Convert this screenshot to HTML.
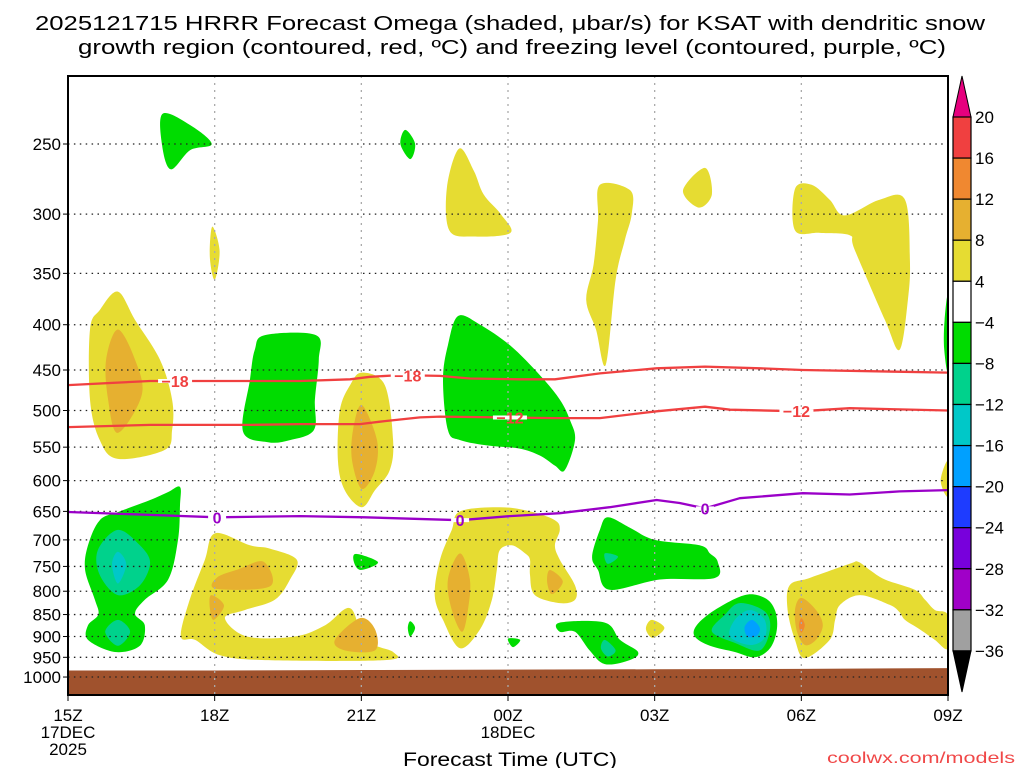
<!DOCTYPE html>
<html><head><meta charset="utf-8"><style>
html,body{margin:0;padding:0;background:#fff;width:1024px;height:768px;overflow:hidden}
svg{display:block}
text{font-family:"Liberation Sans",sans-serif;fill:#000}
</style></head><body>
<svg id="chart" width="1024" height="768" viewBox="0 0 1024 768" xmlns="http://www.w3.org/2000/svg">
<text x="510" y="30" text-anchor="middle" font-size="20" textLength="950" lengthAdjust="spacingAndGlyphs">2025121715 HRRR Forecast Omega (shaded, μbar/s) for KSAT with dendritic snow</text>
<text x="512" y="54" text-anchor="middle" font-size="20" textLength="868" lengthAdjust="spacingAndGlyphs">growth region (contoured, red, ºC) and freezing level (contoured, purple, ºC)</text>
<g id="plot"></g>
<g id="cbar"></g>
<text x="510" y="766" text-anchor="middle" font-size="19" textLength="214" lengthAdjust="spacingAndGlyphs">Forecast Time (UTC)</text>
<text x="1015" y="763" text-anchor="end" font-size="16" style="fill:#f04848" textLength="188" lengthAdjust="spacingAndGlyphs">coolwx.com/models</text>
</svg>
<script>
// ---- data ----
const pressureTicks = [250,300,350,400,450,500,550,600,650,700,750,800,850,900,950,1000];
const timeTickHours = [0,3,6,9,12,15,18];
const timeTickLabels = ["15Z","18Z","21Z","00Z","03Z","06Z","09Z"];
const dateLabels = [[0,"17DEC"],[0,"2025"],[9,"18DEC"]];
const cbarLevels = ["20","16","12","8","4","−4","−8","−12","−16","−20","−24","−28","−32","−36"];
const cbarColors = ["#f04040","#f08830","#e6b030","#e6dc32","#ffffff","#00dc00","#00d28c","#00c8c8","#00a0ff","#1e3cff","#7800dc","#a000c8","#a0a0a0"];
const shadeColors = {y:"#e6dc32",g:"#e6b030",o:"#f08830",G:"#00dc00",T:"#00d28c",C:"#00c8c8",B:"#00a0ff"};
// omega shaded regions: [level, [[hour, pressure], ...]]
const omegaRegions = [
 ["G",[[1.94,231],[2.5,238],[2.94,250],[2.5,254],[2.1,267],[1.92,250]]],
 ["y",[[2.95,310],[3.1,330],[3.0,356],[2.9,335]]],
 ["G",[[6.9,241],[7.1,250],[7.0,260],[6.8,250]]],
 ["y",[[8.0,253],[8.3,268],[8.5,285],[8.85,300],[9.05,315],[8.3,318],[7.8,313],[7.75,280]]],
 ["y",[[10.88,278],[11.5,282],[11.53,300],[11.39,321],[11.2,356],[11.0,444],[10.8,405],[10.6,375],[10.75,342],[10.84,305]]],
 ["y",[[12.58,282],[13.03,266],[13.17,285],[12.9,295]]],
 ["y",[[14.87,281],[15.21,278],[15.58,289],[15.89,301],[16.6,289],[17.12,289],[17.22,338],[17.18,375],[17.01,427],[16.71,395],[16.09,329],[15.99,317],[15.38,315],[14.87,313]]],
 ["G",[[17.93,395],[18,372],[18,450],[17.92,425]]],
 ["y",[[17.85,600],[18,570],[18,625]]],
 ["y",[[1.02,367],[1.37,395],[1.88,438],[2.13,486],[2.13,526],[1.98,554],[1.02,567],[0.65,540],[0.45,486],[0.45,405],[0.65,385]]],
 ["g",[[1.02,405],[1.37,438],[1.51,480],[1.02,530],[0.82,486],[0.78,438]]],
 ["G",[[4.03,411],[5.07,411],[5.13,438],[5.05,486],[5.03,526],[4.54,540],[4.09,543],[3.58,528],[3.72,462],[3.82,427]]],
 ["y",[[6.01,453],[6.48,468],[6.65,540],[6.58,584],[6.28,615],[6.01,643],[5.66,615],[5.52,569],[5.56,500],[5.77,468]]],
 ["g",[[6.01,493],[6.32,540],[6.28,584],[6.01,613],[5.81,569],[5.83,526]]],
 ["G",[[7.98,391],[8.43,400],[9.04,422],[9.65,456],[10.06,486],[10.27,513],[10.37,540],[10.16,584],[9.96,577],[9.65,562],[9.24,552],[8.63,548],[8.02,540],[7.77,526],[7.67,462],[7.77,422]]],
 ["G",[[2.29,610],[2.05,618],[1.68,631],[1.06,650],[0.65,665],[0.41,710],[0.35,757],[0.55,818],[0.62,850],[0.41,874],[0.41,908],[0.96,937],[1.47,922],[1.57,874],[1.37,848],[1.57,818],[2.05,776],[2.25,700],[2.29,640]]],
 ["T",[[1.02,682],[1.47,710],[1.68,743],[1.47,788],[1.02,808],[0.65,767],[0.61,719]]],
 ["C",[[1.02,722],[1.19,746],[1.02,784],[0.9,746]]],
 ["T",[[1.02,862],[1.27,889],[1.02,922],[0.76,889]]],
 ["y",[[3.01,688],[3.72,710],[4.13,716],[4.68,737],[4.54,776],[4.23,818],[3.62,840],[3.21,858],[3.66,900],[4.64,900],[5.26,874],[5.77,836],[6.07,908],[6.65,937],[6.48,957],[4.03,957],[3.11,945],[2.6,908],[2.31,900],[2.49,818],[2.8,737]]],
 ["g",[[4.0,741],[4.13,790],[3.03,795],[3.05,772],[3.5,755]]],
 ["g",[[2.93,808],[3.19,830],[2.98,862],[2.9,835]]],
 ["g",[[5.97,858],[6.28,883],[6.28,933],[5.66,933],[5.46,908]]],
 ["G",[[5.89,726],[6.34,742],[5.99,757],[5.85,742]]],
 ["G",[[7.0,865],[7.1,880],[7.0,900],[6.95,880]]],
 ["y",[[8.02,650],[8.83,643],[9.45,650],[9.96,665],[10.06,682],[9.96,710],[10.06,737],[10.37,788],[10.37,818],[10.06,825],[9.55,808],[9.45,767],[9.45,737],[9.35,725],[9.08,710],[8.83,719],[8.77,757],[8.67,818],[8.43,883],[8.02,928],[7.67,862],[7.5,808],[7.61,737],[7.85,682]]],
 ["g",[[8.02,725],[8.22,776],[8.18,840],[8.06,889],[7.85,840],[7.77,776]]],
 ["g",[[9.86,757],[10.12,780],[9.9,806],[9.8,780]]],
 ["G",[[9.0,905],[9.25,908],[9.1,925]]],
 ["G",[[11.04,660],[11.49,678],[12.0,700],[12.92,710],[13.13,725],[13.29,741],[13.23,773],[12.11,776],[11.08,797],[10.84,757],[10.72,731],[10.88,682]]],
 ["T",[[10.98,725],[11.25,731],[11.04,745]]],
 ["G",[[10.06,868],[10.98,868],[11.29,908],[11.66,937],[11.49,957],[10.98,967],[10.67,933],[10.37,889],[10.06,889]]],
 ["T",[[10.98,908],[11.2,933],[11.04,948],[10.9,928]]],
 ["y",[[11.94,862],[12.2,880],[11.96,903],[11.82,882]]],
 ["G",[[13.84,808],[14.25,814],[14.46,840],[14.5,883],[14.36,928],[14.05,950],[13.64,937],[13.13,922],[12.82,900],[12.86,874],[13.23,840]]],
 ["T",[[13.74,825],[14.25,843],[14.36,883],[14.15,933],[13.64,915],[13.17,888],[13.44,850]]],
 ["C",[[13.95,840],[14.25,862],[14.25,903],[13.95,920],[13.54,900],[13.64,862]]],
 ["B",[[13.99,862],[14.15,880],[14.09,898],[13.9,900],[13.84,878]]],
 ["y",[[14.76,788],[15.17,773],[15.99,745],[16.16,741],[16.4,757],[16.71,776],[17.32,797],[17.53,818],[17.73,840],[18,852],[18,928],[17.73,908],[17.42,883],[17.12,862],[17.01,845],[16.81,829],[16.2,808],[15.79,829],[15.69,862],[15.58,908],[15.07,952],[14.87,908],[14.72,840]]],
 ["g",[[15.0,814],[15.3,840],[15.44,874],[15.3,908],[15.07,920],[14.91,888],[14.87,840]]],
 ["o",[[15.0,858],[15.07,874],[15.0,891],[14.95,874]]]
];
const surfaceHours = [0,3,6,9,12,15,18];
const surfacePressure = [983,983,982,981,980,979,977];
const m18Hours = [0,1.68,2.19,3.05,4.75,5.77,6.18,6.79,7.61,8.22,9.24,9.96,10.88,12.04,13.03,14.15,15.03,18];
const m18Press = [468,463,463,463,463,461,458,456,457,460,461,461,454,448,446,448,450,453];
const m18Labels = [2.19,6.95];
const m12Hours = [0,1.68,3.72,4.75,5.97,6.48,7.2,7.61,8.83,9.96,10.88,12.04,13.03,13.54,14.97,15.99,18];
const m12Press = [522,519,519,518,518,514,509,508,509,510,510,501,495,499,501,497,500];
const m12Labels = [9.04,14.9];
const zeroHours = [0,1.68,3.05,4.75,6.07,8.02,9.04,10.06,11.08,12.04,12.51,13.03,13.74,15.03,15.99,17.01,18];
const zeroPress = [651,656,660,658,660,665,658,653,643,631,636,645,628,620,622,617,615];
const zeroLabels = [3.05,8.02,13.03];

// ---- axes ----
const X0=68, X1=948, Y0=76, Y1=695;
const xOf = h => X0 + h*(X1-X0)/18;
const yOf = p => 144 + Math.log(p/250)*384.5;
const NS="http://www.w3.org/2000/svg";
function mk(tag, attrs, parent){const e=document.createElementNS(NS,tag);for(const k in attrs)e.setAttribute(k,attrs[k]);parent.appendChild(e);return e;}
const plot=document.getElementById('plot');
const cbar=document.getElementById('cbar');

function smoothClosed(pts){
  const n=pts.length;let d=`M${pts[0][0].toFixed(1)},${pts[0][1].toFixed(1)}`;
  for(let i=0;i<n;i++){
    const p0=pts[(i-1+n)%n],p1=pts[i],p2=pts[(i+1)%n],p3=pts[(i+2)%n];
    const c1=[p1[0]+(p2[0]-p0[0])/6,p1[1]+(p2[1]-p0[1])/6];
    const c2=[p2[0]-(p3[0]-p1[0])/6,p2[1]-(p3[1]-p1[1])/6];
    d+=`C${c1[0].toFixed(1)},${c1[1].toFixed(1)} ${c2[0].toFixed(1)},${c2[1].toFixed(1)} ${p2[0].toFixed(1)},${p2[1].toFixed(1)}`;
  }
  return d+'Z';
}
const defs=mk('defs',{},plot);
const cp=mk('clipPath',{id:'clip'},defs);
mk('rect',{x:X0,y:Y0,width:X1-X0,height:Y1-Y0},cp);
const shadeG=mk('g',{'clip-path':'url(#clip)'},plot);
omegaRegions.forEach((r,i)=>{
  const pts=r[1].map(q=>[xOf(q[0]),yOf(q[1])]);
  const e=mk('path',{d:smoothClosed(pts),fill:shadeColors[r[0]]},shadeG);
  
  
});
// ground
let gd=`M${xOf(0)},${Y1}`;
surfaceHours.forEach((h,i)=>{gd+=`L${xOf(h)},${yOf(surfacePressure[i])}`;});
gd+=`L${xOf(18)},${Y1}Z`;
const ground=mk('path',{d:gd,fill:'#a0522d'},shadeG);



// grid
pressureTicks.forEach(p=>{
  const y=yOf(p);
  const l=mk('line',{x1:X0,x2:X1,y1:y,y2:y,stroke:'#222','stroke-width':1.3,'stroke-dasharray':'1.5 4.4'},plot);
  
  
  const t=mk('text',{x:61,y:y+6,'text-anchor':'end','font-size':17},plot);
  t.textContent=p;
  
  
  mk('line',{x1:X0-5,x2:X0,y1:y,y2:y,stroke:'#000'},plot);
});
timeTickHours.forEach((h,i)=>{
  const x=xOf(h);
  if(h>0&&h<18){const l=mk('line',{x1:x,x2:x,y1:Y0,y2:Y1,stroke:'#aaa','stroke-width':1.3,'stroke-dasharray':'2 5'},plot);
  
  }
  mk('line',{x1:x,x2:x,y1:Y1,y2:Y1+6,stroke:'#000'},plot);
  const t=mk('text',{x:x,y:721,'text-anchor':'middle','font-size':17},plot);
  t.textContent=timeTickLabels[i];
  
  
});
dateLabels.forEach((d,i)=>{
  const row = (d[0]===0)? (d[1]==="2025"?2:1) : 1;
  const t=mk('text',{x:xOf(d[0]),y:721+row*17,'text-anchor':'middle','font-size':17},plot);
  t.textContent=d[1];
  
  
});

// contours
function contour(hours,press,color,labels,txt,name){
  let d='';hours.forEach((h,i)=>{d+=(i?'L':'M')+xOf(h).toFixed(1)+','+yOf(press[i]).toFixed(1);});
  const e=mk('path',{d:d,fill:'none',stroke:color,'stroke-width':2.3,'stroke-linejoin':'round'},plot);
  
  
  labels.forEach(h=>{
    let p=press[press.length-1];
    for(let i=0;i<hours.length-1;i++){if(h>=hours[i]&&h<=hours[i+1]){const f=(h-hours[i])/(hours[i+1]-hours[i]);p=press[i]+f*(press[i+1]-press[i]);break;}}
    const x=xOf(h),y=yOf(p);
    const hw = txt.length>1?17:9;
    mk('line',{x1:x-hw,x2:x+hw,y1:y,y2:y,stroke:'#fff','stroke-width':4},plot);
    const t=mk('text',{x:x,y:y+6,'text-anchor':'middle','font-size':16,'font-weight':'bold',style:'fill:'+color},plot);
    t.textContent=txt;
    
    
  });
}
contour(m18Hours,m18Press,'#f04040',m18Labels,'−18','contour-minus18');
contour(m12Hours,m12Press,'#f04040',m12Labels,'−12','contour-minus12');
contour(zeroHours,zeroPress,'#9a00c8',zeroLabels,'0','freezing-level-0');

// frame
const fr=mk('rect',{x:X0,y:Y0,width:X1-X0,height:Y1-Y0,fill:'none',stroke:'#000','stroke-width':2},plot);



// colorbar
const CX0=953,CX1=971,CTop=117,CH=41.07;
const topTri=mk('path',{d:`M${CX0},${CTop}L${(CX0+CX1)/2},76L${CX1},${CTop}Z`,fill:'#e6007e',stroke:'#000'},cbar);


cbarColors.forEach((c,i)=>{
  const r=mk('rect',{x:CX0,y:CTop+i*CH,width:CX1-CX0,height:CH,fill:c,stroke:'#000','stroke-width':1.2},cbar);
  
  
});
const yb=CTop+cbarColors.length*CH;
const botTri=mk('path',{d:`M${CX0},${yb}L${(CX0+CX1)/2},692L${CX1},${yb}Z`,fill:'#000',stroke:'#000'},cbar);


cbarLevels.forEach((l,i)=>{
  const t=mk('text',{x:975,y:CTop+i*CH+6,'font-size':17},cbar);
  t.textContent=l;
  
  
});
</script>
</body></html>
